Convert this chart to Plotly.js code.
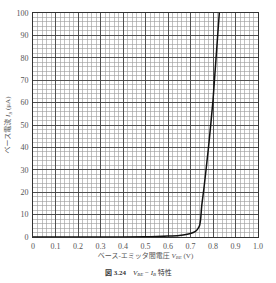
<!DOCTYPE html>
<html>
<head>
<meta charset="utf-8">
<script src="https://cdn.plot.ly/plotly-3.0.1.min.js"></script>
<style>html,body{margin:0;padding:0;background:#fff;}#chart{width:276px;height:283px;}</style>
</head>
<body>
<div id="chart"></div>
<script>
// Base-emitter voltage V_BE (V)
const vbe = [0, 0.30, 0.50, 0.55, 0.60, 0.65, 0.68, 0.70, 0.72, 0.73, 0.74, 0.745, 0.75, 0.76, 0.78, 0.80, 0.828];
// Base current I_B (μA)
const ib  = [0, 0.0, 0.1, 0.2, 0.4, 0.7, 1.1, 1.6, 2.4, 3.3, 5.0, 8.0, 14, 22, 40, 61, 100];
const xTicks = [0, 0.1, 0.2, 0.3, 0.4, 0.5, 0.6, 0.7, 0.8, 0.9, 1.0];
const xTickText = ["0", "0.1", "0.2", "0.3", "0.4", "0.5", "0.6", "0.7", "0.8", "0.9", "1.0"];
const yTicks = [0, 10, 20, 30, 40, 50, 60, 70, 80, 90, 100];

const serif = "Liberation Serif, DejaVu Serif, Noto Sans CJK JP, serif";
const trace = {
  x: vbe, y: ib, type: 'scatter', mode: 'lines',
  line: {color: '#111', width: 1.5, shape: 'spline', smoothing: 0.6},
  hoverinfo: 'skip'
};
const axisCommon = {
  showline: true, linecolor: '#333', linewidth: 1, mirror: true,
  ticks: '', zeroline: false,
  gridcolor: '#444', gridwidth: 0.9,
  tickfont: {family: serif, size: 8, color: '#555'}
};
const layout = {
  width: 276, height: 283,
  margin: {l: 33, r: 18, t: 13, b: 46},
  paper_bgcolor: '#fff', plot_bgcolor: '#fff',
  showlegend: false,
  xaxis: Object.assign({}, axisCommon, {
    range: [0, 1.0], tickvals: xTicks, ticktext: xTickText,
    minor: {dtick: 0.02, showgrid: true, gridcolor: '#999', gridwidth: 0.6},
    ticklabelstandoff: 1,
    title: {text: 'ベース-エミッタ間電圧 <i>V<sub>BE</sub></i> (V)', font: {family: serif, size: 7, color: '#555'}, standoff: 3}
  }),
  yaxis: Object.assign({}, axisCommon, {
    range: [0, 100], tickvals: yTicks,
    minor: {dtick: 2, showgrid: true, gridcolor: '#999', gridwidth: 0.6},
    ticklabelstandoff: 2,
    title: {text: 'ベース電流 <i>I<sub>B</sub></i> (μA)', font: {family: serif, size: 7, color: '#555'}, standoff: 4}
  }),
  annotations: [{
    xref: 'paper', yref: 'paper', x: 0.47, y: -0.13, xanchor: 'center', yanchor: 'top',
    text: '<b>図 3.24</b>　<i>V<sub>BE</sub></i> − <i>I<sub>B</sub></i> 特性',
    showarrow: false, font: {family: serif, size: 7, color: '#333'}
  }]
};
Plotly.newPlot('chart', [trace], layout, {displayModeBar: false, staticPlot: true});
</script>
</body>
</html>
